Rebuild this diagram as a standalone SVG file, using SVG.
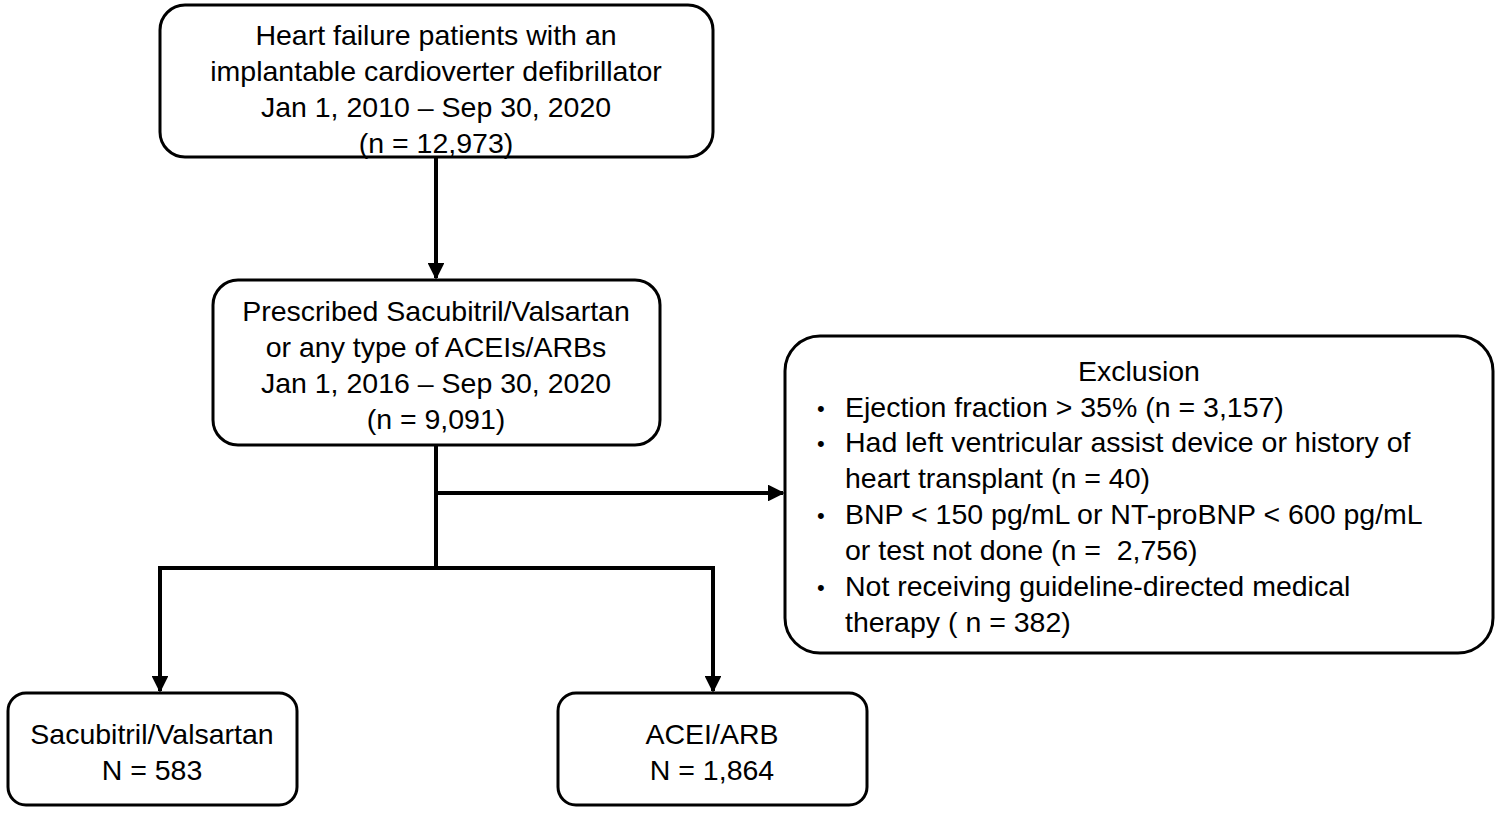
<svg xmlns="http://www.w3.org/2000/svg" width="1500" height="813" viewBox="0 0 1500 813">
<style>
.b{fill:#fff;stroke:#000;stroke-width:3}
text{font-family:"Liberation Sans",Arial,sans-serif;font-size:28.5px;fill:#000}
.c{text-anchor:middle}
.d{font-size:22px}
.l{fill:none;stroke:#000;stroke-width:4}
</style>
<defs><marker id="a" viewBox="0 0 10 10" refX="9" refY="5" markerWidth="4.2" markerHeight="4.2" orient="auto" markerUnits="strokeWidth"><path d="M0,0L10,5L0,10z" fill="#000"/></marker></defs>
<rect width="1500" height="813" fill="#fff"/>
<g id="connectors">
<path class="l" d="M436,157V278" marker-end="url(#a)"/>
<path class="l" d="M436,445V568"/>
<path class="l" d="M436,493H783" marker-end="url(#a)"/>
<path class="l" d="M158,568H715"/>
<path class="l" d="M160,566V691" marker-end="url(#a)"/>
<path class="l" d="M713,566V691" marker-end="url(#a)"/>
</g>
<g id="n1"><rect class="b" x="160" y="5" width="553" height="152" rx="25"/>
<text class="c" x="436" y="45">Heart failure patients with an</text>
<text class="c" x="436" y="81">implantable cardioverter defibrillator</text>
<text class="c" x="436" y="117">Jan 1, 2010 – Sep 30, 2020</text>
<text class="c" x="436" y="153">(n = 12,973)</text></g>
<g id="n2"><rect class="b" x="213" y="280" width="447" height="165" rx="25"/>
<text class="c" x="436" y="321">Prescribed Sacubitril/Valsartan</text>
<text class="c" x="436" y="357">or any type of ACEIs/ARBs</text>
<text class="c" x="436" y="393">Jan 1, 2016 – Sep 30, 2020</text>
<text class="c" x="436" y="429">(n = 9,091)</text></g>
<g id="n3"><rect class="b" x="785" y="336" width="708" height="317" rx="35"/>
<text class="c" x="1139" y="381">Exclusion</text>
<text class="d" x="817" y="416">•</text><text x="845" y="417">Ejection fraction &gt; 35% (n = 3,157)</text>
<text class="d" x="817" y="451">•</text><text x="845" y="452">Had left ventricular assist device or history of</text>
<text x="845" y="488">heart transplant (n = 40)</text>
<text class="d" x="817" y="523">•</text><text x="845" y="524">BNP &lt; 150 pg/mL or NT-proBNP &lt; 600 pg/mL</text>
<text x="845" y="560" xml:space="preserve">or test not done (n =  2,756)</text>
<text class="d" x="817" y="595">•</text><text x="845" y="596">Not receiving guideline-directed medical</text>
<text x="845" y="632">therapy ( n = 382)</text></g>
<g id="n4"><rect class="b" x="8" y="693" width="289" height="112" rx="18"/>
<text class="c" x="152" y="744">Sacubitril/Valsartan</text>
<text class="c" x="152" y="780">N = 583</text></g>
<g id="n5"><rect class="b" x="558" y="693" width="309" height="112" rx="18"/>
<text class="c" x="712" y="744">ACEI/ARB</text>
<text class="c" x="712" y="780">N = 1,864</text></g>
</svg>
